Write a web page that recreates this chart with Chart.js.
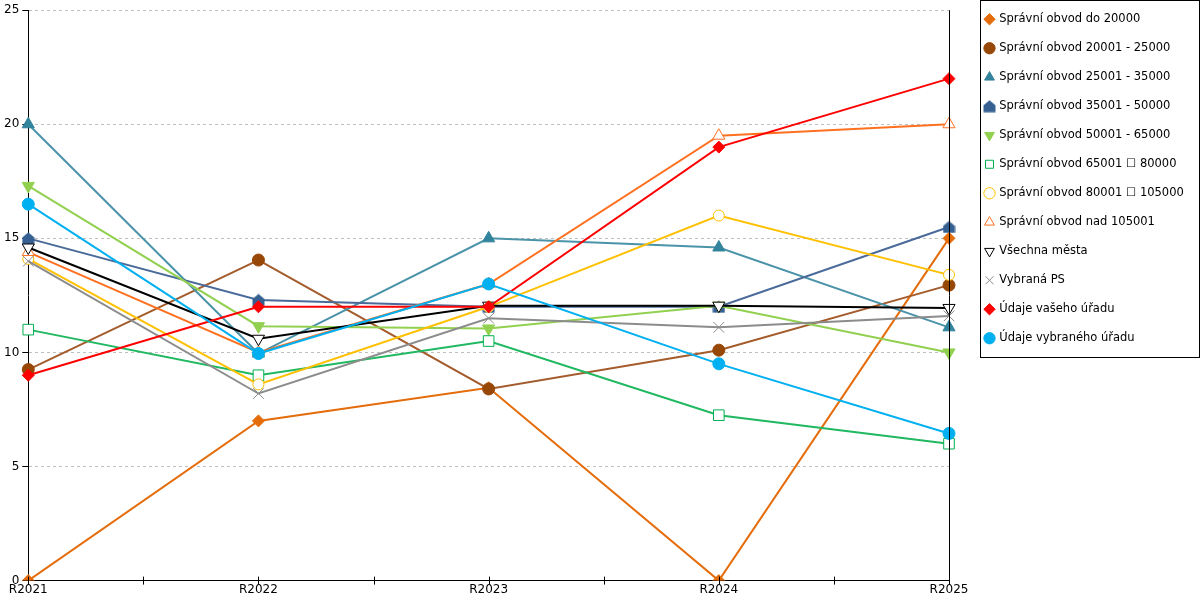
<!DOCTYPE html>
<html>
<head>
<meta charset="utf-8">
<script src="https://cdn.jsdelivr.net/npm/chart.js@4/dist/chart.umd.min.js"></script>
<style>
  html, body { margin: 0; padding: 0; background: #fff; }
  #wrap { width: 1200px; height: 600px; }
</style>
</head>
<body>
<div id="wrap"><canvas id="chart"></canvas></div>
<script>
// ===== Data =====
const years = ['R2021', 'R2022', 'R2023', 'R2024', 'R2025'];
const yTicks = [0, 5, 10, 15, 20, 25];

const obvodDo20000 = [0, 7, 8.45, 0, 15];
const obvod20001 = [9.25, 14.05, 8.4, 10.1, 12.95];
const obvod25001 = [20, 9.95, 15, 14.6, 11.1];
const obvod35001 = [15, 12.3, 12, 12, 15.5];
const obvod50001 = [17.3, 11.15, 11.05, 12.05, 10];
const obvod65001 = [11, 9, 10.5, 7.25, 6];
const obvod80001 = [14.1, 8.6, 12, 16, 13.4];
const obvodNad105001 = [14.4, 10, 13, 19.5, 20];
const vsechnaMesta = [14.6, 10.6, 12.05, 12.05, 11.95];
const vybranaPS = [14, 8.2, 11.5, 11.1, 11.6];
const vasUrad = [9, 12, 12, 19, 22];
const vybranyUrad = [16.5, 9.95, 13, 9.5, 6.45];

// ===== House-shaped marker (pentagon) =====
function houseMarker(color, size) {
  const c = document.createElement('canvas');
  c.width = size; c.height = size;
  const g = c.getContext('2d');
  const m = size / 2;
  g.fillStyle = color;
  g.beginPath();
  g.moveTo(m, 0.5);
  g.lineTo(size - 0.5, m - 1);
  g.lineTo(size - 0.5, size - 0.5);
  g.lineTo(0.5, size - 0.5);
  g.lineTo(0.5, m - 1);
  g.closePath();
  g.fill();
  return c;
}

function series(label, data, color, style, opts) {
  return Object.assign({
    label,
    data,
    borderColor: color,
    backgroundColor: color,
    borderWidth: 2,
    pointStyle: style,
    pointRadius: 6,
    pointHoverRadius: 6,
    pointBackgroundColor: color,
    pointBorderColor: color,
    pointBorderWidth: 1,
    tension: 0
  }, opts || {});
}

const datasets = [
  series('Správní obvod do 20000', obvodDo20000, '#E46C0A', 'rectRot'),
  series('Správní obvod 20001 - 25000', obvod20001, '#974706', 'circle', { borderColor: '#A45C2C' }),
  series('Správní obvod 25001 - 35000', obvod25001, '#31849B', 'triangle', { pointRadius: 7, borderColor: '#4A93A8' }),
  series('Správní obvod 35001 - 50000', obvod35001, '#366092', houseMarker('#366092', 13), { borderColor: '#4A6B9A' }),
  series('Správní obvod 50001 - 65000', obvod50001, '#92D050', 'triangle', { pointRadius: 7, pointRotation: 180 }),
  series('Správní obvod 65001 \u2610 80000', obvod65001, '#00B050', 'rect', { pointRadius: 7.5, pointBackgroundColor: '#fff', borderColor: '#20B860' }),
  series('Správní obvod 80001 \u2610 105000', obvod80001, '#FFC000', 'circle', { pointRadius: 5.5, pointBackgroundColor: '#fff' }),
  series('Správní obvod nad 105001', obvodNad105001, '#FF7020', 'triangle', { pointRadius: 7, pointBackgroundColor: '#fff' }),
  series('Všechna města', vsechnaMesta, '#000000', 'triangle', { pointRadius: 7, pointRotation: 180, pointBackgroundColor: '#fff' }),
  series('Vybraná PS', vybranaPS, '#8C8C8C', 'crossRot', { pointRadius: 7.5 }),
  series('Údaje vašeho úřadu', vasUrad, '#FF0000', 'rectRot'),
  series('Údaje vybraného úřadu', vybranyUrad, '#00B0F0', 'circle')
];
// later series drawn on top
datasets.forEach((d, i) => { d.order = datasets.length - i; });

const LEGEND_WIDTH = 232;
const LEGEND_GAP = 19;

// ===== Extra drawing: half-step x ticks, right frame line, legend box =====
const framePlugin = {
  id: 'frame',
  beforeLayout(chart) {
    const lg = chart.legend;
    if (lg && !lg._fixedFit) {
      const origFit = lg.fit;
      lg.fit = function () {
        origFit.call(this);
        this.width = LEGEND_WIDTH + LEGEND_GAP;
      };
      lg._fixedFit = true;
    }
  },
  afterLayout(chart) {
    const lg = chart.legend;
    const shift = 7;
    lg.top -= shift;
    lg.bottom -= shift;
    lg.left += LEGEND_GAP;
  },
  afterDatasetsDraw(chart) {
    const { ctx, chartArea } = chart;
    const x = chart.scales.x;
    ctx.save();
    ctx.strokeStyle = '#000';
    ctx.lineWidth = 1;
    ctx.beginPath();
    const r = Math.round(chartArea.right) + 0.5;
    ctx.moveTo(r, chartArea.top);
    ctx.lineTo(r, chartArea.bottom);
    for (let i = 0; i <= (years.length - 1) * 2; i++) {
      const px = Math.round(x.getPixelForValue(i / 2)) + 0.5;
      ctx.moveTo(px, chartArea.bottom - 4);
      ctx.lineTo(px, chartArea.bottom + 4);
    }
    ctx.stroke();
    ctx.restore();
  },
  afterDraw(chart) {
    const lg = chart.legend;
    const boxes = lg.legendHitBoxes;
    const last = boxes[boxes.length - 1];
    const { ctx } = chart;
    const left = Math.round(lg.left) + 12;
    ctx.save();
    ctx.strokeStyle = '#000';
    ctx.lineWidth = 1;
    ctx.strokeRect(left + 0.5, 0.5, 1199 - left, Math.round(last.top + last.height) + 13);
    ctx.restore();
  }
};

const font = { family: 'DejaVu Sans', size: 12 };

new Chart(document.getElementById('chart'), {
  type: 'line',
  data: { labels: years, datasets },
  options: {
    responsive: true,
    maintainAspectRatio: false,
    animation: false,
    layout: { padding: { top: 3, bottom: 0, left: 1, right: 0 } },
    plugins: {
      legend: {
        position: 'right',
        align: 'start',
        labels: {
          usePointStyle: true,
          boxWidth: 8,
          boxHeight: 8,
          padding: 17.5,
          color: '#000',
          font: { family: 'DejaVu Sans', size: 11.5 },
          sort: (a, b) => a.datasetIndex - b.datasetIndex
        }
      },
      tooltip: { enabled: false }
    },
    scales: {
      x: {
        offset: false,
        grid: { display: true, color: 'rgba(0,0,0,0)', drawTicks: false },
        border: { display: true, color: '#000', width: 1 },
        ticks: { color: '#000', font, padding: 2.5, maxRotation: 0, autoSkip: false }
      },
      y: {
        min: 0,
        max: 25,
        afterBuildTicks: (scale) => { scale.ticks = yTicks.map(v => ({ value: v })); },
        grid: { color: '#BFBFBF', tickColor: '#000', tickLength: 6, drawTicks: true },
        border: { display: true, color: '#000', width: 1, dash: [3, 3] },
        ticks: { color: '#000', font, padding: 3 }
      }
    }
  },
  plugins: [framePlugin]
});
</script>
</body>
</html>
